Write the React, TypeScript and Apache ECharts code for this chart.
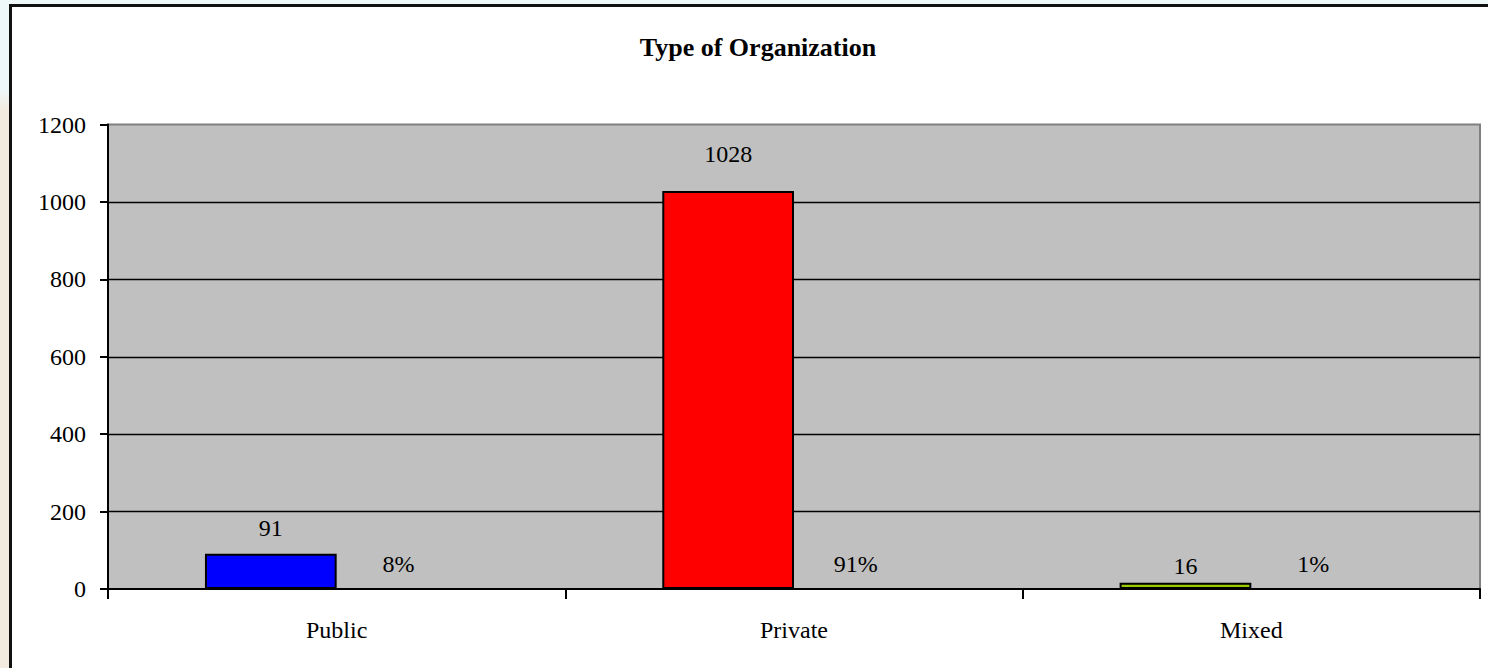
import React, { useEffect, useRef } from "react";
import * as echarts from "echarts";

const categories = ["Public", "Private", "Mixed"];
const counts = [91, 1028, 16];
const shares = [0.08, 0.91, 0.01];
const barColors = ["#0000ff", "#ff0000", "#99cc00"];
const yTicks = { min: 0, max: 1200, interval: 200 };
const countLabelDistance = [14, 25, 5];

const FONT = "'Liberation Serif', 'Times New Roman', serif";

export default function App() {
  const ref = useRef<HTMLDivElement>(null);
  useEffect(() => {
    if (!ref.current) return;
    const chart = echarts.init(ref.current, undefined, { renderer: "svg" });
    chart.setOption({
      animation: false,
      backgroundColor: "transparent",
      title: {
        text: "Type of Organization",
        left: 753,
        top: 29,
        textAlign: "center",
        textStyle: { fontFamily: FONT, fontWeight: "bold", fontSize: 26, color: "#000" },
      },
      grid: {
        left: 108,
        right: 8,
        top: 124.5,
        bottom: 79,
        show: true,
        backgroundColor: "#c0c0c0",
        borderColor: "#808080",
        borderWidth: 2,
      },
      xAxis: {
        type: "category",
        data: categories,
        axisLine: { lineStyle: { color: "#000", width: 2 } },
        axisTick: { show: true, length: 10, lineStyle: { color: "#000", width: 2 } },
        axisLabel: { fontFamily: FONT, fontSize: 24, color: "#000", margin: 29 },
      },
      yAxis: {
        type: "value",
        min: yTicks.min,
        max: yTicks.max,
        interval: yTicks.interval,
        axisLine: { show: true, lineStyle: { color: "#000", width: 2 } },
        axisTick: { show: true, length: 8, lineStyle: { color: "#000", width: 2 } },
        axisLabel: {
          fontFamily: FONT,
          fontSize: 24,
          color: "#000",
          margin: 22,
          formatter: (v: number) => String(v),
        },
        splitLine: {
          show: true,
          showMaxLine: false,
          showMinLine: false,
          lineStyle: { color: "#000", width: 1.3 },
        },
      },
      series: [
        {
          type: "bar",
          barGap: "0%",
          barCategoryGap: "42.4%",
          data: counts.map((v, i) => ({
            value: v,
            itemStyle: { color: barColors[i] },
            label: { distance: countLabelDistance[i] },
          })),
          itemStyle: { borderColor: "#000", borderWidth: 2 },
          label: {
            show: true,
            position: "top",
            fontFamily: FONT,
            fontSize: 24,
            color: "#000",
          },
        },
        {
          type: "bar",
          data: shares,
          itemStyle: { color: "transparent" },
          label: {
            show: true,
            position: "top",
            distance: 13,
            offset: [-4, 0],
            fontFamily: FONT,
            fontSize: 24,
            color: "#000",
            formatter: (p: any) => `${Math.round(p.value * 100)}%`,
          },
        },
      ],
    });
    return () => chart.dispose();
  }, []);

  return (
    <div
      style={{
        position: "fixed",
        left: 0,
        top: 0,
        width: 1488,
        height: 668,
        overflow: "hidden",
        background: "linear-gradient(to bottom, #eef8f8 0px, #eef8f8 90px, #f3ebe0 110px, #f3ebe0 668px)",
      }}
    >
      <div
        style={{
          position: "absolute",
          left: 9,
          top: 4,
          width: 1500,
          height: 680,
          border: "3px solid #111",
          background: "#fff",
        }}
      />
      <div ref={ref} style={{ position: "absolute", left: 0, top: 0, width: 1488, height: 668 }} />
    </div>
  );
}
